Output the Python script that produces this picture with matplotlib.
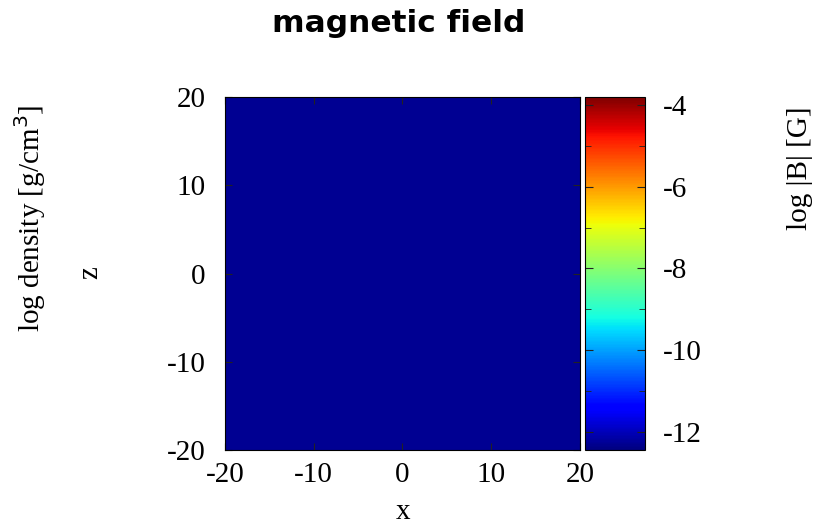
import numpy as np
import matplotlib.pyplot as plt
from matplotlib.ticker import MultipleLocator

# grid edges and field value (the whole slice is uniform at the floor value)
x_edges = [-20, 0, 20]
z_edges = [-20, 0, 20]
log_b = [[-12.3, -12.3],
         [-12.3, -12.3]]
x_ticks = [-20, -10, 0, 10, 20]
z_ticks = [-20, -10, 0, 10, 20]
cbar_ticks = [-4, -6, -8, -10, -12]
vmin, vmax = -12.45, -3.8

plt.rcParams['font.family'] = ['Liberation Serif', 'DejaVu Serif']
plt.rcParams['axes.unicode_minus'] = False

fig = plt.figure(figsize=(8.25, 5.26), dpi=100)

ax = fig.add_axes([0.2727, 0.1445, 0.4303, 0.671])
mesh = ax.pcolormesh(x_edges, z_edges, np.array(log_b), cmap='jet',
                     vmin=vmin, vmax=vmax, shading='flat')
ax.set_xlim(-20, 20)
ax.set_ylim(-20, 20)
ax.set_xticks(x_ticks)
ax.set_yticks(z_ticks)
ax.tick_params(direction='in', top=True, right=True, length=5,
               labelsize=21, color='#222')
ax.tick_params(axis='x', pad=9)
ax.tick_params(axis='y', pad=14)
for s in ax.spines.values():
    s.set_linewidth(0.8)

# colorbar axis
cax = fig.add_axes([0.709, 0.1445, 0.0727, 0.671])
cb = fig.colorbar(mesh, cax=cax)
cb.set_ticks(cbar_ticks)
cb.ax.yaxis.set_minor_locator(MultipleLocator(1))
cb.ax.tick_params(which='both', direction='in', left=True, right=True,
                  labelsize=21, pad=13, color='#222')
cb.ax.tick_params(which='major', length=6)
cb.ax.tick_params(which='minor', length=4)
cb.outline.set_linewidth(0.8)

fig.text(0.483, 0.956, 'magnetic field', ha='center', va='center',
         fontsize=22.5, fontweight='bold', family=['DejaVu Sans'])
fig.text(0.036, 0.585, 'log density [g/cm$^3$]', rotation=90,
         ha='center', va='center', fontsize=21)
fig.text(0.109, 0.482, 'z', rotation=90, ha='center', va='center',
         fontsize=21)
fig.text(0.489, 0.027, 'x', ha='center', va='center', fontsize=21)
fig.text(0.97, 0.68, 'log |B| [G]', rotation=90, ha='center',
         va='center', fontsize=21)

plt.savefig('out.png', dpi=100)
